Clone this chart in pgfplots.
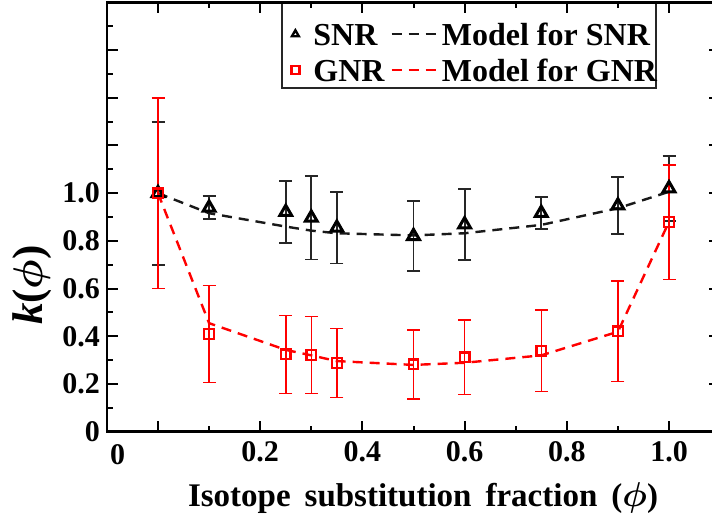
\documentclass[border=0pt]{standalone}
\usepackage{pgfplots}
\pgfplotsset{compat=1.18}
\usepackage{pgfplotstable}
\usepackage{fontspec}
\setmainfont{Liberation Serif}

\pgfplotsset{
  datalegend/.style={legend image code/.code={\draw[##1, mark size=2pt, every mark/.append style={line width=1.2pt}] plot coordinates {(0pt,0pt)};}},
  modellegend/.style={legend image code/.code={\draw[##1] (0pt,0pt) -- (22.5pt,0pt);}},
}

\pgfplotstableread{
x y e
0 1.000 0.300
0.1 0.939 0.049
0.25 0.921 0.131
0.3 0.897 0.175
0.35 0.855 0.150
0.5 0.820 0.146
0.6 0.869 0.149
0.75 0.917 0.068
0.9 0.948 0.120
1.0 1.020 0.136
}\snr

\pgfplotstableread{
x y e
0 1.000 0.400
0.1 0.409 0.203
0.25 0.324 0.163
0.3 0.322 0.161
0.35 0.288 0.145
0.5 0.282 0.145
0.6 0.312 0.156
0.75 0.339 0.171
0.9 0.421 0.211
1.0 0.879 0.240
}\gnr

\pgfplotstableread{
x y
0 1.000
0.1 0.916
0.25 0.860
0.3 0.843
0.35 0.832
0.5 0.823
0.6 0.832
0.75 0.867
0.9 0.937
1.0 1.006
}\snrmodel

\pgfplotstableread{
x y
0 1.000
0.1 0.455
0.25 0.343
0.3 0.320
0.35 0.296
0.5 0.280
0.6 0.289
0.75 0.320
0.9 0.419
1.0 0.880
}\gnrmodel

\begin{document}
\begin{tikzpicture}
\begin{axis}[
  at={(0,0)}, anchor=south west, scale only axis,
  width=306.6pt, height=214.65pt,
  xmin=-0.1, xmax=1.1, ymin=0, ymax=1.8,
  axis line style={line width=1.3pt},
  every tick/.style={black, line width=1pt},
  major tick length=5.5pt, minor tick length=3pt,
  xtick={0,0.2,0.4,0.6,0.8,1.0}, minor xtick={0.1,0.3,0.5,0.7,0.9},
  xticklabels={,0.2,0.4,0.6,0.8,1.0},
  extra x ticks={-0.079}, extra x tick labels={0},
  extra x tick style={major tick length=0pt, tick label style={yshift=-1.8pt}},
  ytick={0,0.2,0.4,0.6,0.8,1.0,1.2,1.4,1.6},
  minor ytick={0.1,0.3,0.5,0.7,0.9,1.1,1.3,1.5,1.7},
  yticklabels={0,0.2,0.4,0.6,0.8,1.0,,,},
  ytick pos=left,
  ticklabel style={font=\fontsize{15}{15}\selectfont\bfseries},
  xticklabel style={yshift=-1.2pt},
  xlabel={\textbf{Isotope\hspace{7pt}substitution\hspace{7pt}fraction\hspace{7pt}(}{\boldmath$\phi$}\textbf{)}},
  xlabel style={at={(axis description cs:0.5155,-0.1747)}, anchor=base, font=\fontsize{16.5}{16.5}\selectfont},
  ylabel={\textbf{\textit{k}(}{\boldmath$\phi$}\textbf{)}},
  ylabel style={at={(axis description cs:-0.1221,0.3417)}, anchor=center, font=\fontsize{21.5}{21.5}\selectfont},
  legend columns=2, legend cell align=left,
  legend style={at={(axis description cs:0.3002,0.8153)}, anchor=south west,
    draw=none, fill=none, inner sep=0pt, row sep=7pt,
    font=\fontsize{16}{16}\selectfont\bfseries,
    nodes={inner sep=0pt, text height=11pt, text depth=0pt},
    /tikz/column 1/.style={column sep=7pt},
    /tikz/column 2/.style={column sep=3pt},
    /tikz/column 3/.style={column sep=2pt}},
]
\addplot[black, only marks, mark=triangle, mark size=3.4pt,
  mark options={line width=1.5pt, solid}, datalegend,
  error bars/.cd, y dir=both, y explicit, error mark=-,
  error mark options={rotate=90, mark size=3.25pt, line width=0.95pt, black!85},
  error bar style={line width=0.95pt, black!85}]
  table[x=x, y=y, y error=e] {\snr};
\addlegendentry{SNR}
\addplot[black!90, line width=1.2pt, dash pattern=on 5pt off 3.5pt, modellegend]
  table[x=x, y=y] {\snrmodel};
\addlegendentry{Model for SNR}
\addplot[red, only marks, mark=square, mark size=2.4pt,
  mark options={line width=1.15pt, solid}, datalegend,
  error bars/.cd, y dir=both, y explicit, error mark=-,
  error mark options={rotate=90, mark size=3.25pt, line width=0.75pt, red},
  error bar style={line width=0.75pt, red}]
  table[x=x, y=y, y error=e] {\gnr};
\addlegendentry{GNR}
\addplot[red, line width=1.2pt, dash pattern=on 5pt off 3.5pt, modellegend]
  table[x=x, y=y] {\gnrmodel};
\addlegendentry{Model for GNR}
\draw[line width=1pt, black!85] (axis description cs:0.286,1) -- (axis description cs:0.286,0.800) -- (axis description cs:0.8955,0.800) -- (axis description cs:0.8955,1);
\end{axis}
\begin{axis}[
  at={(0,0)}, anchor=south west, scale only axis,
  width=306.6pt, height=214.65pt,
  xmin=-0.1, xmax=1.1, ymin=0, ymax=1.8,
  axis line style={line width=1.3pt},
  every tick/.style={black, line width=1pt},
  major tick length=5.5pt,
  xtick=\empty,
  ytick={0.2,0.4,0.6,0.8,1.0,1.2,1.4,1.6}, yticklabels={},
  ytick pos=right,
]
\end{axis}
\pgfresetboundingbox
\path (-53.45pt,-45.15pt) rectangle (302.55pt,215.85pt);
\end{tikzpicture}
\end{document}
